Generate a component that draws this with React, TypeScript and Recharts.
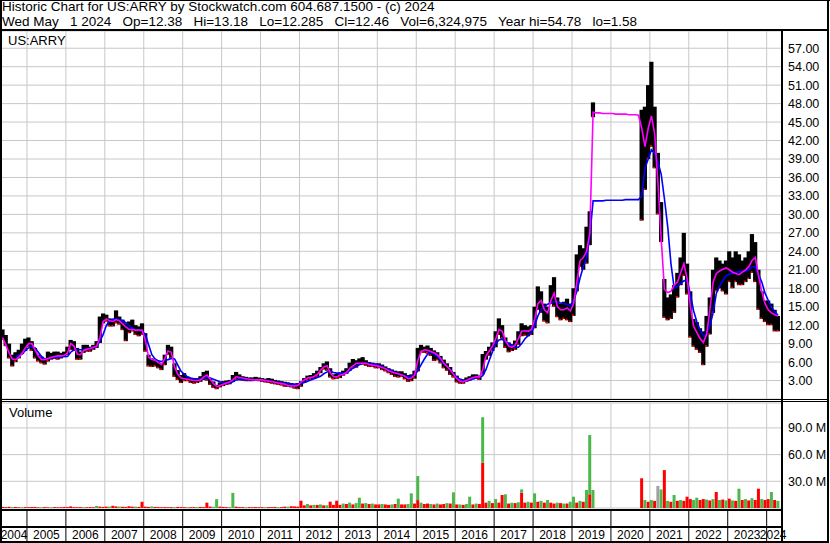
import React from "react"
import { Bar, CartesianGrid, ComposedChart, Line, XAxis, YAxis } from "recharts"

// one entry per month, May 2004 .. Apr 2024
const startYear = 2004
const startMonth = 4

const gridYears = [2005, 2006, 2007, 2008, 2009, 2010, 2011, 2012, 2013, 2014, 2015, 2016, 2017, 2018, 2019, 2020, 2021, 2022, 2023, 2024]
const yearLabels = ["2004", "2005", "2006", "2007", "2008", "2009", "2010", "2011", "2012", "2013", "2014", "2015", "2016", "2017", "2018", "2019", "2020", "2021", "2022", "2023", "2024"]

const high = [
  11.3, 10.4, 9.0, 7.2, 7.6, 8.0, 9.0, 9.8,
  10.0, 9.4, 8.3, 7.2, 6.9, 6.6, 7.7, 7.5, 7.7, 7.7, 7.5, 7.7,
  8.5, 9.6, 9.4, 8.3, 7.7, 8.8, 8.8, 8.5, 8.8, 9.4, 13.4, 13.9,
  13.7, 13.1, 12.9, 14.4, 13.4, 12.9, 12.3, 12.6, 12.9, 12.0, 11.8, 12.3,
  10.7, 7.2, 6.6, 6.4, 6.1, 5.8, 7.2, 8.8, 8.5, 5.8, 4.7, 3.9,
  4.2, 3.6, 3.4, 3.4, 3.4, 3.7, 4.4, 4.6, 3.4, 2.85, 2.3, 2.7,
  2.9, 3.0, 3.1, 3.9, 4.4, 4.0, 3.7, 3.6, 3.5, 3.5, 3.6, 3.5,
  3.4, 3.3, 3.4, 3.3, 3.1, 3.0, 2.9, 2.8, 2.7, 2.6, 2.5, 2.6,
  2.9, 3.4, 3.8, 3.9, 4.2, 4.6, 5.2, 5.8, 6.1, 5.0, 4.0, 4.1,
  4.3, 4.6, 5.0, 5.9, 6.5, 6.3, 6.6, 6.8, 6.3, 6.0, 5.9, 5.8,
  5.8, 5.6, 5.3, 5.0, 4.8, 4.6, 4.5, 4.5, 4.2, 3.9, 4.0, 4.6,
  8.3, 8.8, 8.5, 8.7, 8.3, 7.9, 7.6, 7.0, 6.4, 5.8, 5.2, 4.4,
  3.8, 3.3, 3.2, 3.5, 3.7, 4.0, 4.0, 3.8, 7.3, 7.8, 8.5, 9.2,
  11.0, 13.1, 12.0, 10.0, 9.2, 8.9, 9.5, 11.0, 12.3, 12.0, 11.8, 12.0,
  15.0, 18.3, 17.5, 15.5, 15.0, 18.5, 19.8, 16.5, 15.5, 15.8, 16.3, 15.5,
  18.0, 23.5, 25.0, 24.5, 28.0, 30.5, 48.2, null, null, null, null, null,
  null, null, null, null, null, null, null, null, null, 47.0, 47.5, 51.0,
  54.8, 47.5, 40.0, 32.0, 19.5, 16.5, 17.0, 18.5, 20.5, 23.0, 27.0, 22.0,
  17.5, 13.0, 12.5, 11.5, 11.0, 13.5, 16.5, 21.0, 23.0, 22.5, 22.0, 22.5,
  24.0, 23.0, 24.0, 23.5, 22.5, 23.0, 24.0, 26.8, 25.5, 21.0, 17.5, 16.0,
  16.0, 15.5, 14.5, 13.5,
]

const low = [
  9.6, 8.6, 6.6, 5.3, 6.0, 6.6, 7.3, 7.8,
  8.5, 7.8, 6.6, 6.1, 5.8, 5.6, 6.1, 6.4, 6.5, 6.4, 6.6, 6.8,
  7.2, 8.0, 7.8, 6.4, 6.4, 7.5, 7.7, 7.7, 8.0, 8.3, 9.1, 12.3,
  12.6, 11.8, 11.8, 12.3, 12.1, 11.2, 9.4, 10.7, 11.0, 10.4, 10.2, 10.4,
  7.7, 5.3, 5.2, 5.3, 5.0, 4.7, 5.5, 7.2, 6.6, 3.6, 3.1, 2.6,
  2.9, 2.9, 2.6, 2.5, 2.6, 2.8, 3.1, 3.0, 2.3, 1.8, 1.6, 1.9,
  2.1, 2.3, 2.4, 2.8, 3.2, 3.1, 3.0, 2.9, 2.9, 2.9, 3.0, 2.9,
  2.8, 2.7, 2.6, 2.5, 2.4, 2.3, 2.2, 2.0, 2.0, 1.9, 1.7, 1.6,
  2.0, 2.6, 3.0, 3.2, 3.3, 3.6, 4.2, 4.8, 4.6, 3.5, 3.2, 3.3,
  3.4, 3.8, 4.1, 4.6, 5.0, 5.1, 5.5, 5.6, 5.4, 5.2, 5.2, 5.0,
  5.0, 4.7, 4.5, 4.2, 3.9, 3.6, 3.5, 3.6, 3.2, 2.8, 2.9, 3.3,
  4.5, 7.6, 7.5, 7.4, 7.0, 6.2, 6.3, 5.8, 5.0, 4.6, 3.9, 3.5,
  2.7, 2.5, 2.5, 2.8, 3.0, 3.2, 3.3, 3.1, 4.0, 6.4, 7.0, 7.8,
  8.4, 10.4, 9.8, 8.3, 7.6, 7.8, 8.0, 8.8, 10.2, 10.3, 10.2, 10.4,
  11.5, 14.5, 14.0, 12.6, 12.3, 15.5, 15.0, 13.3, 12.8, 13.0, 12.8, 12.5,
  13.5, 17.5, 21.5, 21.0, 22.0, 25.0, 45.8, null, null, null, null, null,
  null, null, null, null, null, null, null, null, null, 29.0, 34.0, 39.0,
  41.0, 37.5, 30.0, 25.5, 13.2, 12.8, 13.0, 14.0, 16.5, 18.5, 20.0, 17.0,
  10.0, 8.5, 8.0, 7.5, 5.5, 8.5, 10.5, 14.0, 17.5, 18.0, 17.5, 17.0,
  19.0, 18.0, 19.0, 18.5, 18.5, 19.0, 19.5, 20.5, 19.0, 14.5, 13.0, 12.5,
  12.0, 12.0, 11.0, 11.0,
]

// magenta (short) moving average
const maShort = [
  10.0, 8.8, 7.5, 6.5, 6.4, 6.8, 7.4, 8.3,
  9.0, 9.0, 8.0, 7.0, 6.4, 6.4, 6.6, 6.8, 6.9, 7.0, 7.0, 7.1,
  7.5, 9.0, 8.6, 7.3, 7.2, 7.9, 8.1, 8.2, 8.4, 8.6, 10.0, 12.6,
  13.0, 12.7, 12.6, 12.9, 12.7, 12.2, 11.7, 11.3, 11.3, 11.2, 11.2, 11.2,
  9.5, 6.8, 6.4, 6.3, 5.9, 5.6, 6.6, 7.8, 7.6, 5.2, 4.0, 3.4,
  3.3, 3.2, 3.1, 3.0, 3.0, 3.1, 3.6, 3.9, 3.2, 2.5, 2.0, 2.2,
  2.4, 2.6, 2.8, 3.1, 3.65, 3.5, 3.4, 3.3, 3.2, 3.15, 3.1, 3.1,
  3.1, 3.0, 2.9, 2.85, 2.7, 2.6, 2.5, 2.4, 2.2, 2.15, 2.1, 2.2,
  2.8, 3.1, 3.4, 3.5, 3.65, 4.0, 4.7, 5.2, 5.4, 4.2, 3.65, 3.6,
  3.9, 4.0, 4.3, 5.0, 5.4, 5.8, 5.8, 5.8, 5.8, 5.6, 5.5, 5.4,
  5.3, 5.1, 4.9, 4.6, 4.4, 4.2, 4.1, 3.9, 3.7, 3.3, 3.4, 3.9,
  6.3, 7.7, 8.0, 7.9, 7.7, 7.5, 7.2, 6.6, 5.8, 5.3, 4.7, 4.0,
  3.3, 2.9, 2.8, 3.0, 3.3, 3.5, 3.6, 3.6, 4.8, 7.0, 7.8, 8.6,
  9.8, 11.3, 11.0, 9.5, 8.6, 8.4, 8.8, 9.8, 11.0, 11.1, 11.0, 11.3,
  13.0, 15.5, 16.0, 14.5, 14.0, 16.0, 17.2, 15.0, 14.5, 14.5, 14.8, 14.3,
  15.5, 19.0, 22.5, 23.0, 24.0, 27.0, 46.6, 46.5, 46.5, 46.4, 46.4, 46.4,
  46.4, 46.3, 46.3, 46.3, 46.3, 46.2, 46.2, 46.2, 46.1, 44.0, 41.0, 44.0,
  46.0, 43.0, 35.0, 26.0, 17.8, 17.3, 17.5, 18.5, 19.0, 20.5, 22.0, 19.5,
  15.0, 11.8, 10.8, 9.8, 9.2, 10.5, 14.5, 19.0, 20.4, 20.8, 21.1, 21.3,
  21.0, 20.6, 20.4, 20.2, 20.6, 21.0, 21.5, 22.5, 23.0, 20.0, 17.5, 15.5,
  14.5, 14.0, 13.7, 13.5,
]

// blue (long) moving average
const maLong = [
  null, null, null, null, 6.9, 7.1, 7.3, 7.9,
  8.3, 8.5, 8.3, 7.6, 6.9, 6.5, 6.5, 6.7, 6.7, 6.8, 6.85, 6.9,
  6.9, 7.6, 8.0, 8.0, 8.0, 8.0, 8.1, 8.2, 8.3, 8.6, 9.4, 10.5,
  12.0, 12.7, 13.0, 13.0, 12.9, 12.7, 12.4, 11.9, 11.5, 11.2, 11.2, 11.0,
  10.5, 8.8, 7.2, 6.5, 6.2, 6.1, 6.3, 6.4, 6.6, 6.5, 5.5, 4.5,
  4.0, 3.6, 3.4, 3.3, 3.3, 3.2, 3.3, 3.5, 3.4, 3.2, 3.0, 2.8,
  2.65, 2.6, 2.6, 2.8, 3.1, 3.15, 3.15, 3.15, 3.15, 3.1, 3.1, 3.1,
  3.1, 3.05, 2.95, 2.85, 2.8, 2.7, 2.6, 2.55, 2.5, 2.45, 2.4, 2.4,
  2.5, 2.7, 2.9, 3.1, 3.3, 3.5, 3.7, 4.1, 4.4, 4.5, 4.3, 4.2,
  4.2, 4.2, 4.2, 4.6, 5.0, 5.3, 5.6, 5.8, 5.8, 5.8, 5.7, 5.6,
  5.5, 5.3, 5.0, 4.8, 4.6, 4.3, 4.1, 3.9, 3.75, 3.7, 3.7, 3.9,
  4.6, 5.6, 6.5, 7.3, 7.6, 7.3, 6.9, 6.3, 5.7, 5.3, 4.8, 4.1,
  3.5, 3.2, 3.0, 3.0, 3.1, 3.3, 3.4, 3.5, 3.8, 4.8, 6.3, 7.7,
  9.0, 9.6, 9.7, 9.3, 9.0, 8.7, 8.4, 8.4, 9.0, 9.8, 10.3, 10.8,
  12.0, 13.5, 14.6, 15.0, 15.4, 15.6, 15.8, 15.8, 15.6, 15.5, 15.3, 15.2,
  16.0, 17.5, 19.7, 21.5, 23.0, 26.5, 32.2, 32.2, 32.2, 32.2, 32.3, 32.3,
  32.3, 32.3, 32.3, 32.3, 32.4, 32.4, 32.4, 32.4, 32.4, 33.0, 37.5, 39.0,
  40.5, 40.0, 38.5, 36.5, 32.5, 28.0, 22.0, 18.0, 18.3, 18.8, 19.2, 19.3,
  17.0, 14.3, 12.5, 11.2, 10.2, 10.5, 11.9, 14.0, 17.2, 18.3, 19.3, 20.0,
  20.3, 20.4, 20.6, 20.7, 20.7, 20.8, 21.0, 21.5, 21.5, 20.2, 19.0, 17.2,
  16.0, 14.9, 14.2, 13.6,
]

// volume in millions, red (down) part drawn first, green (up) part stacked on it
const volRed = [
  1.2, 1.0, 1.4, 0, 1.0, 0.8, 0, 1.0,
  0.9, 1.0, 1.2, 0.8, 0, 1.0, 0.8, 0, 1.0, 0.8, 0.9, 1.0,
  1.0, 1.8, 1.0, 0.9, 1.0, 0, 0.9, 1.0, 0.9, 0, 1.5, 1.2,
  1.5, 0, 2.5, 1.8, 0, 1.4, 1.2, 2.0, 1.5, 0, 1.2, 7.0,
  1.5, 1.2, 0, 1.2, 1.0, 0.8, 1.0, 0.9, 1.0, 0, 1.2, 1.0,
  1.0, 0, 0.9, 1.0, 0, 1.2, 1.0, 6.0, 1.5, 0, 0, 1.5,
  1.2, 1.0, 0, 0, 1.5, 1.0, 1.0, 0, 1.0, 0.9, 1.0, 0.9,
  1.0, 0, 1.0, 1.0, 1.2, 0, 1.0, 1.5, 0, 2.0, 1.8, 1.5,
  8.2, 3.0, 0, 3.0, 0, 3.5, 0, 3.0, 0, 7.1, 3.5, 8.2,
  3.5, 0, 4.5, 0, 4.0, 0, 0, 5.0, 0, 4.5, 0, 4.0,
  4.0, 0, 4.0, 3.5, 0, 4.5, 0, 4.0, 4.0, 0, 0, 5.0,
  8.9, 0, 4.5, 5.0, 0, 4.0, 0, 4.0, 4.5, 0, 5.0, 0,
  4.0, 0, 3.5, 0, 0, 4.0, 0, 4.5, 51.0, 6.0, 0, 5.5,
  0, 6.0, 14.6, 0, 5.0, 0, 5.5, 0, 17.2, 6.0, 0, 6.0,
  0, 7.0, 0, 6.0, 0, 6.0, 5.0, 0, 5.5, 0, 5.0, 0,
  0, 6.0, 0, 7.0, 0, 15.4, 0, 0, 0, 0, 0, 0,
  0, 0, 0, 0, 0, 0, 0, 0, 0, 33.4, 0, 7.0,
  0, 8.0, 0, 0, 42.6, 0, 7.0, 0, 8.0, 0, 8.0, 12.7,
  10.0, 0, 0, 9.0, 10.0, 0, 8.5, 0, 18.0, 0, 9.5, 0,
  10.5, 0, 8.0, 0, 9.0, 0, 8.5, 0, 9.0, 21.7, 0, 9.0,
  10.0, 0, 9.0, 0,
]

const volGreen = [
  0, 0, 0, 1.2, 0, 0, 1.0, 0,
  0, 0, 0, 0, 0.9, 0, 0, 0.9, 0, 0, 0, 0,
  0, 0, 0, 0, 0, 1.0, 0, 0, 0, 2.4, 0, 0,
  0, 1.5, 0, 0, 1.6, 0, 0, 0, 0, 1.5, 0, 0,
  0, 0, 1.8, 0, 0, 0, 0, 0, 0, 1.0, 0, 0,
  0, 1.0, 0, 0, 1.2, 0, 0, 0, 0, 1.4, 10.0, 0,
  0, 0, 1.2, 17.0, 0, 0, 0, 1.0, 0, 0, 0, 0,
  0, 1.0, 0, 0, 0, 1.0, 0, 0, 1.5, 0, 0, 0,
  0, 0, 4.5, 0, 3.5, 0, 4.0, 0, 3.0, 0, 0, 0,
  0, 5.0, 0, 6.0, 0, 5.5, 11.6, 0, 5.5, 0, 5.0, 0,
  0, 4.5, 0, 0, 4.0, 0, 10.5, 0, 0, 4.5, 16.5, 0,
  27.0, 6.0, 0, 0, 4.5, 0, 5.0, 0, 0, 5.5, 0, 17.6,
  0, 4.0, 0, 4.5, 12.7, 0, 5.0, 0, 51.0, 0, 8.0, 0,
  10.1, 0, 0, 15.4, 0, 6.0, 0, 6.5, 3.7, 0, 7.0, 0,
  16.5, 0, 8.0, 0, 9.0, 0, 0, 6.0, 0, 5.0, 0, 7.0,
  12.7, 0, 8.0, 0, 20.2, 66.6, 20.2, 0, 0, 0, 0, 0,
  0, 0, 0, 0, 0, 0, 0, 0, 0, 0, 9.0, 0,
  9.0, 0, 0, 20.9, 0, 8.0, 0, 14.6, 0, 9.0, 0, 0,
  0, 9.0, 11.6, 0, 0, 9.5, 0, 10.0, 0, 9.0, 0, 8.5,
  0, 8.5, 0, 21.7, 0, 10.0, 0, 11.0, 0, 0, 10.0, 0,
  0, 18.0, 0, 8.0,
]

// unchanged-close volume (grey bar)
const volGray: Record<string, number> = { "2021-03": 24.8 }

const priceTicks = [3, 6, 9, 12, 15, 18, 21, 24, 27, 30, 33, 36, 39, 42, 45, 48, 51, 54, 57]
const volumeTicks = [30, 60, 90]

const xStart = startYear + startMonth / 12
const dataEnd = xStart + high.length / 12
const xDomain = [xStart, dataEnd + 0.035]

const rows = high.map((h, i) => {
  const m = startMonth + i
  const year = startYear + Math.floor(m / 12)
  const month = m % 12
  const key = `${year}-${String(month + 1).padStart(2, "0")}`
  return {
    t: year + (month + 0.5) / 12,
    range: h == null ? undefined : [low[i], h],
    maShort: maShort[i],
    maLong: maLong[i],
    red: volRed[i],
    green: volGreen[i],
    gray: volGray[key] ?? 0,
  }
})

// label positions: middle of each visible year cell
const labelTicks = yearLabels.map((y) => {
  const yr = Number(y)
  const a = Math.max(yr, xStart)
  const b = Math.min(yr + 1, dataEnd)
  return (a + b) / 2
})

const font = '"Liberation Sans", Arial, sans-serif'

// monthly high-low bar, widened a little so neighbouring months touch, red close tick at the foot
function PriceBar(props: any) {
  const { x, y, width, height } = props
  if (!(height > 0)) return <g />
  return (
    <g>
      <rect x={x - 0.6} y={y} width={width + 1.2} height={height} fill="#000" />
      <rect x={x} y={y + height - 1.5} width={width - 1} height={1.5} fill="#ff0000" />
    </g>
  )
}

function YearTick(props: any) {
  const { x, y, payload } = props
  return (
    <text x={x} y={y} textAnchor="middle" fontSize={12} fill="#000" fontFamily={font}>
      {Math.floor(payload.value)}
    </text>
  )
}

function Rule({ left, top, width, height }: { left: number; top: number; width: number; height: number }) {
  return <div style={{ position: "absolute", left, top, width, height, background: "#000" }} />
}

export default function App() {
  return (
    <div
      style={{
        position: "absolute",
        left: 0,
        top: 0,
        width: 830,
        height: 543,
        background: "#fff",
        fontFamily: font,
        overflow: "hidden",
      }}
    >
      <div style={{ position: "absolute", left: 2, top: -1, fontSize: 13.5, lineHeight: "15px", whiteSpace: "pre", color: "#000" }}>
        {"Historic Chart for US:ARRY by Stockwatch.com 604.687.1500 - (c) 2024\nWed May   1 2024   Op=12.38   Hi=13.18   Lo=12.285   Cl=12.46   Vol=6,324,975   Year hi=54.78   lo=1.58"}
      </div>

      <div style={{ position: "absolute", left: 0, top: 0 }}>
        <ComposedChart width={830} height={400} data={rows} margin={{ top: 31, right: 0, left: 1, bottom: 1 }}>
          <CartesianGrid stroke="#c8c8c8" verticalValues={gridYears} />
          <XAxis type="number" dataKey="t" domain={xDomain} allowDataOverflow hide />
          <YAxis
            orientation="right"
            domain={[0, 59.8]}
            ticks={priceTicks}
            interval={0}
            allowDataOverflow
            width={49}
            tickSize={0}
            tickMargin={7}
            axisLine={false}
            tickFormatter={(v: number) => v.toFixed(2)}
            tick={{ fill: "#000", fontSize: 12.5 }}
          />
          <Bar dataKey="range" barSize={3} shape={PriceBar} isAnimationActive={false} />
          <Line dataKey="maLong" stroke="#0000ff" strokeWidth={1.6} dot={false} isAnimationActive={false} />
          <Line dataKey="maShort" stroke="#ff00ff" strokeWidth={1.6} dot={false} isAnimationActive={false} />
        </ComposedChart>
      </div>

      <div style={{ position: "absolute", left: 0, top: 400 }}>
        <ComposedChart width={830} height={110} data={rows} margin={{ top: 3, right: 0, left: 1, bottom: 2 }}>
          <CartesianGrid stroke="#c8c8c8" verticalValues={gridYears} />
          <XAxis type="number" dataKey="t" domain={xDomain} allowDataOverflow hide />
          <YAxis
            orientation="right"
            domain={[0, 118]}
            ticks={volumeTicks}
            interval={0}
            allowDataOverflow
            width={49}
            tickSize={0}
            tickMargin={7}
            axisLine={false}
            tickFormatter={(v: number) => `${v.toFixed(1)} M`}
            tick={{ fill: "#000", fontSize: 12.5 }}
          />
          <Bar dataKey="red" stackId="v" fill="#ff0000" barSize={3} isAnimationActive={false} />
          <Bar dataKey="green" stackId="v" fill="#4cb84c" barSize={3} isAnimationActive={false} />
          <Bar dataKey="gray" stackId="v" fill="#a0a0a0" barSize={3} isAnimationActive={false} />
        </ComposedChart>
      </div>

      <div style={{ position: "absolute", left: 0, top: 511 }}>
        <ComposedChart width={830} height={30} data={rows} margin={{ top: 0, right: 49, left: 1, bottom: 0 }}>
          <CartesianGrid stroke="#000" horizontal={false} verticalValues={gridYears} />
          <XAxis
            type="number"
            dataKey="t"
            domain={xDomain}
            allowDataOverflow
            ticks={labelTicks}
            interval={0}
            mirror
            tickSize={0}
            tickMargin={2}
            axisLine={false}
            tickLine={false}
            tick={<YearTick />}
          />
        </ComposedChart>
      </div>

      <div style={{ position: "absolute", left: 8, top: 33, fontSize: 13 }}>US:ARRY</div>
      <div style={{ position: "absolute", left: 9, top: 405, fontSize: 13 }}>Volume</div>

      <Rule left={0} top={0} width={830} height={1} />
      <Rule left={0} top={0} width={2} height={543} />
      <Rule left={827} top={0} width={2} height={543} />
      <Rule left={0} top={29} width={829} height={2} />
      <Rule left={781} top={31} width={2} height={512} />
      <Rule left={0} top={399} width={829} height={1} />
      <Rule left={0} top={401} width={829} height={1} />
      <Rule left={0} top={509} width={783} height={2} />
      <Rule left={0} top={526} width={783} height={2} />
      <Rule left={0} top={541} width={829} height={2} />
    </div>
  )
}
